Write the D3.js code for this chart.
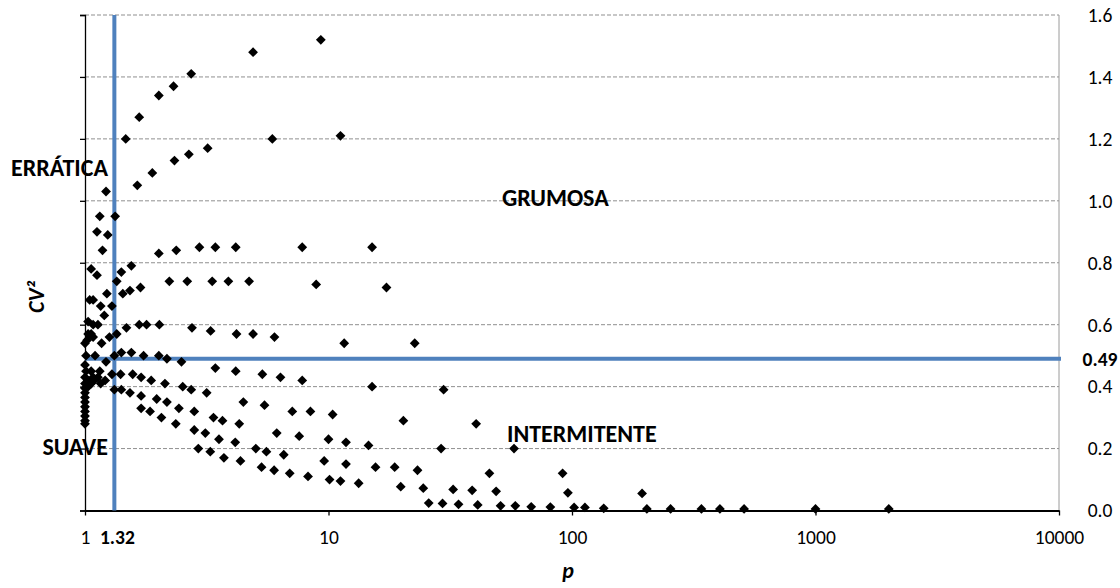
<!DOCTYPE html>
<html>
<head>
<meta charset="utf-8">
<script src="https://cdn.jsdelivr.net/npm/d3@7"></script>
<style>
  body { margin: 0; background: #fff; }
  svg { display: block; font-family: Carlito, Lato, "Open Sans", sans-serif; }
</style>
</head>
<body>
<svg id="chart" width="1120" height="588"></svg>
<script>
// Demand classification: average inter-demand interval (p) vs squared coefficient of variation (CV²)
const pValues = [
  4.9, 9.3, 2.73, 2.31, 2.01, 1.67, 1.47, 5.88, 11.2, 3.19, 2.67, 2.33, 1.89, 1.64, 1.22,
  1.15, 1.33, 1.12, 1.24, 1.18,
  2.01, 2.37, 2.95, 3.43, 4.16, 7.8, 15.1, 8.9, 17.3,
  1.55, 1.06, 1.41, 1.12, 1.35, 2.22, 2.63, 3.33, 3.88, 4.72,
  1.69, 1.53, 1.43, 1.23, 1.045, 1.08, 1.29, 1.16, 1.20,
  1.03, 1.08, 1.13, 1.48, 1.67, 1.79, 2.02, 2.75, 3.28, 4.19, 4.9, 6.0, 11.6, 22.6,
  1.35, 1.03, 1.06, 1.26, 1.0, 1.17, 1.02, 1.08,
  1.01, 1.10, 1.22, 1.32, 1.41, 1.55, 1.74, 2.01, 2.17, 2.49, 3.43, 4.16, 5.35, 6.35, 7.8, 15.1, 29.7,
  1.0, 1.01, 1.06, 1.15, 1.0, 1.08, 1.21, 1.16, 1.29, 1.40, 1.57, 1.70, 1.87, 2.13, 2.52, 2.73, 3.16, 4.47, 5.46,
  1.026, 1.06, 1.32, 1.41, 1.53, 1.70, 1.97, 2.17,
  1.0, 1.0, 1.0, 1.0, 1.0, 1.0, 1.0, 1.0, 1.0, 1.0,
  1.03, 1.05, 1.09, 1.13,
  1.70, 1.85, 2.06, 2.43, 2.36, 2.81, 2.81, 3.12, 3.37, 3.67, 4.30, 6.13, 3.55, 2.92, 3.27, 3.72, 4.14, 4.35, 5.03, 5.56, 5.31, 5.98,
  7.1, 8.43, 10.4, 20.3, 40.4, 7.58, 10.0, 11.8, 14.6, 29.0, 57.8,
  6.55, 6.93, 8.24, 9.6, 10.1, 11.2, 11.8, 13.3, 15.6, 18.7, 23.2, 19.8, 24.5, 32.5, 38.9, 45.8, 48.8, 91.5, 96.2,
  25.8, 29.4, 34.2, 41.0, 50.9, 58.5, 68, 81.5, 102, 113, 135, 194, 203, 254, 340, 405, 509, 1000, 2000
];
const cv2Values = [
  1.48, 1.52, 1.41, 1.37, 1.34, 1.27, 1.20, 1.20, 1.21, 1.17, 1.15, 1.13, 1.09, 1.05, 1.03,
  0.95, 0.95, 0.90, 0.89, 0.84,
  0.83, 0.84, 0.85, 0.85, 0.85, 0.85, 0.85, 0.73, 0.72,
  0.79, 0.78, 0.77, 0.76, 0.74, 0.74, 0.74, 0.74, 0.74, 0.74,
  0.72, 0.71, 0.70, 0.70, 0.68, 0.68, 0.66, 0.66, 0.63,
  0.61, 0.60, 0.60, 0.59, 0.60, 0.60, 0.60, 0.59, 0.58, 0.57, 0.57, 0.56, 0.54, 0.54,
  0.57, 0.57, 0.57, 0.56, 0.54, 0.54, 0.55, 0.56,
  0.50, 0.50, 0.48, 0.50, 0.51, 0.51, 0.50, 0.50, 0.49, 0.48, 0.46, 0.45, 0.44, 0.43, 0.42, 0.40, 0.39,
  0.47, 0.45, 0.45, 0.45, 0.43, 0.43, 0.42, 0.41, 0.44, 0.44, 0.44, 0.43, 0.42, 0.41, 0.40, 0.39, 0.38, 0.35, 0.34,
  0.42, 0.41, 0.39, 0.39, 0.38, 0.37, 0.36, 0.35,
  0.41, 0.395, 0.38, 0.365, 0.35, 0.335, 0.32, 0.305, 0.29, 0.28,
  0.40, 0.41, 0.42, 0.43,
  0.33, 0.32, 0.30, 0.33, 0.28, 0.32, 0.26, 0.25, 0.30, 0.29, 0.28, 0.25, 0.23, 0.20, 0.19, 0.17, 0.22, 0.16, 0.20, 0.19, 0.14, 0.13,
  0.32, 0.32, 0.31, 0.29, 0.28, 0.24, 0.23, 0.22, 0.21, 0.20, 0.20,
  0.18, 0.12, 0.11, 0.16, 0.10, 0.095, 0.15, 0.088, 0.14, 0.14, 0.13, 0.077, 0.072, 0.068, 0.065, 0.12, 0.062, 0.12, 0.057,
  0.024, 0.023, 0.02, 0.018, 0.015, 0.015, 0.012, 0.011, 0.01, 0.01, 0.007, 0.055, 0.005, 0.005, 0.005, 0.005, 0.005, 0.005, 0.005
];
const xTicks = [1, 10, 100, 1000, 10000];
const yTicks = [0, 0.2, 0.4, 0.6, 0.8, 1.0, 1.2, 1.4, 1.6];
const pCut = 1.32;     // ADI threshold
const cv2Cut = 0.49;   // CV² threshold
const zoneNames = ["ERRÁTICA", "GRUMOSA", "SUAVE", "INTERMITENTE"];

const points = pValues.map((p, i) => ({ p, cv2: cv2Values[i] }));

const plotLeft = 85, plotRight = 1059, plotTop = 15, plotBottom = 510.5;
const labelSize = 19.5;
const svg = d3.select("#chart");
const x = d3.scaleLog().domain([1, 10000]).range([plotLeft, plotRight]);
const y = d3.scaleLinear().domain([0, 1.6]).range([plotBottom, plotTop]);

// horizontal dashed gridlines
svg.append("g").selectAll("line")
  .data(yTicks.filter(d => d > 0))
  .join("line")
  .attr("x1", plotLeft).attr("x2", plotRight)
  .attr("y1", d => y(d)).attr("y2", d => y(d))
  .attr("stroke", "#8f8f8f").attr("stroke-width", 1)
  .attr("stroke-dasharray", "4,2");

// right border of the plot area
svg.append("line")
  .attr("x1", plotRight).attr("x2", plotRight).attr("y1", y(1.6)).attr("y2", y(0))
  .attr("stroke", "#9a9a9a").attr("stroke-width", 1);

// left axis (line + outward ticks, no labels)
const yAxisLeft = d3.axisLeft(y).tickValues(yTicks).tickSize(5).tickFormat("");
svg.append("g").attr("transform", `translate(${plotLeft},0)`).call(yAxisLeft)
  .call(g => g.selectAll("path,line").attr("stroke", "#000").attr("stroke-width", 1.3));

// bottom axis
const xAxis = d3.axisBottom(x).tickValues(xTicks).tickSize(5).tickSizeOuter(0)
  .tickPadding(15).tickFormat(d3.format("d"));
svg.append("g").attr("transform", `translate(0,${plotBottom})`).call(xAxis)
  .call(g => g.select(".domain").attr("stroke", "#000").attr("stroke-width", 2))
  .call(g => g.selectAll(".tick line").attr("stroke", "#000").attr("stroke-width", 1.3))
  .call(g => g.selectAll("text").attr("font-size", labelSize).attr("fill", "#000")
    .attr("font-family", "Carlito, Lato, sans-serif"));

// right-side value labels
svg.append("g").selectAll("text")
  .data(yTicks)
  .join("text")
  .attr("x", 1100).attr("y", d => y(d)).attr("dy", "0.35em")
  .attr("text-anchor", "middle").attr("font-size", labelSize).attr("fill", "#000")
  .text(d => d3.format(".1f")(d));

// threshold lines
svg.append("line")
  .attr("x1", plotLeft).attr("x2", plotRight + 2)
  .attr("y1", y(cv2Cut)).attr("y2", y(cv2Cut))
  .attr("stroke", "#4f81bd").attr("stroke-width", 4);
svg.append("line")
  .attr("x1", x(pCut)).attr("x2", x(pCut))
  .attr("y1", y(1.6)).attr("y2", y(0))
  .attr("stroke", "#4f81bd").attr("stroke-width", 4);

// threshold value labels
svg.append("text")
  .attr("x", 1100).attr("y", y(cv2Cut)).attr("dy", "0.35em")
  .attr("text-anchor", "middle").attr("font-size", labelSize).attr("font-weight", "bold")
  .text(d3.format(".2f")(cv2Cut));
svg.append("text")
  .attr("x", x(pCut) + 3).attr("y", plotBottom + 20).attr("dy", "0.71em")
  .attr("text-anchor", "middle").attr("font-size", labelSize).attr("font-weight", "bold")
  .text(d3.format(".2f")(pCut));

// data points (diamonds)
const diamond = "M0,-4.9L4.9,0L0,4.9L-4.9,0Z";
svg.append("g").selectAll("path")
  .data(points)
  .join("path")
  .attr("d", diamond)
  .attr("transform", d => `translate(${x(d.p)},${y(d.cv2)})`)
  .attr("fill", "#000");

// zone names
const zoneStyle = sel => sel.attr("font-size", 24).attr("font-weight", "bold").attr("fill", "#000");
svg.append("text").attr("x", 108).attr("y", 168).attr("dy", "0.35em")
  .attr("text-anchor", "end").call(zoneStyle).text(zoneNames[0]);
svg.append("text").attr("x", 502).attr("y", 198).attr("dy", "0.35em")
  .attr("text-anchor", "start").call(zoneStyle).text(zoneNames[1]);
svg.append("text").attr("x", 108).attr("y", 447).attr("dy", "0.35em")
  .attr("text-anchor", "end").call(zoneStyle).text(zoneNames[2]);
svg.append("text").attr("x", 507).attr("y", 434).attr("dy", "0.35em")
  .attr("text-anchor", "start").call(zoneStyle).text(zoneNames[3]);

// axis titles
svg.append("text")
  .attr("transform", "translate(36,297) rotate(-90)")
  .attr("dy", "0.35em").attr("text-anchor", "middle")
  .attr("font-size", 22).attr("font-weight", "bold").attr("font-style", "italic")
  .text("CV²");
svg.append("text")
  .attr("x", 568).attr("y", 570).attr("dy", "0.35em").attr("text-anchor", "middle")
  .attr("font-size", 22).attr("font-weight", "bold").attr("font-style", "italic")
  .text("p");
</script>
</body>
</html>
